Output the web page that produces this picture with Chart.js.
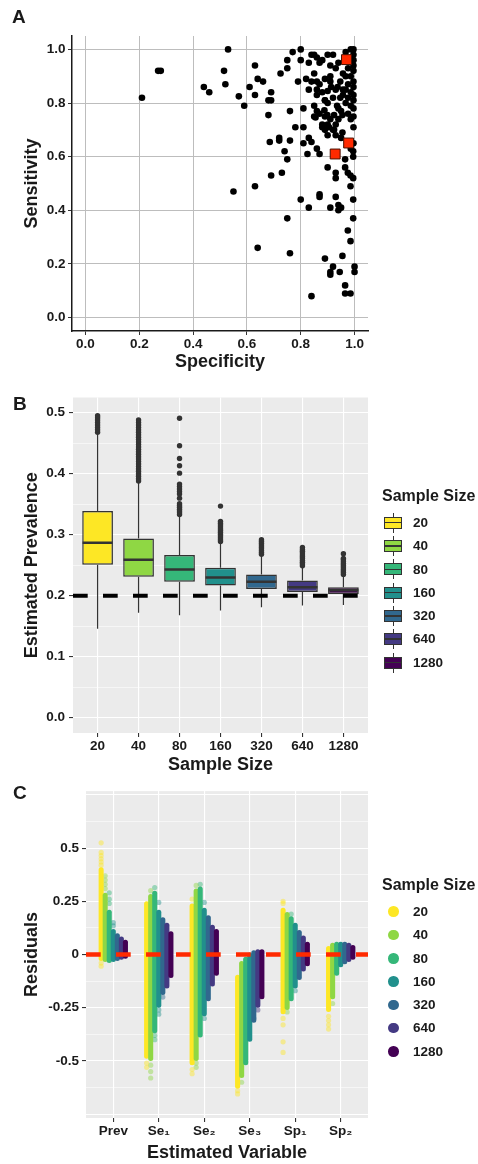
<!DOCTYPE html>
<html>
<head>
<meta charset="utf-8">
<title>Prevalence simulation</title>
<script src="https://cdn.jsdelivr.net/npm/chart.js@4.4.1/dist/chart.umd.min.js"></script>
<style>
  body { margin: 0; background: #fff; }
  #page { position: relative; width: 478px; height: 1164px; font-family: 'Liberation Sans', Arial, sans-serif; font-weight: bold; color: #1a1a1a; }
  canvas { position: absolute; left: 0; }
  .tag { position: absolute; font-size: 19px; line-height: 19px; }
  .lgTitle { position: absolute; left: 382px; font-size: 16px; line-height: 16px; white-space: nowrap; }
  .lgText { position: absolute; left: 413px; font-size: 13.5px; line-height: 13.5px; }
  .boxKey { position: absolute; left: 384px; width: 18px; height: 20px; }
  .boxKey .wh { position: absolute; left: 8.5px; top: 0; width: 1px; height: 20px; background: #333; }
  .boxKey .bx { position: absolute; left: 0; top: 4px; width: 18px; height: 12px; border: 1.3px solid #333; box-sizing: border-box; }
  .boxKey .md { position: absolute; left: 0; top: 9.25px; width: 18px; height: 1.5px; background: #333; }
  .dotKey { position: absolute; left: 388px; width: 10.5px; height: 10.5px; border-radius: 50%; }
</style>
</head>
<body>
<div id="page">
  <canvas id="chartA" width="478" height="380" style="top:0"></canvas>
  <canvas id="chartB" width="478" height="400" style="top:380px"></canvas>
  <canvas id="chartC" width="478" height="384" style="top:780px"></canvas>
  <div class="tag" style="left:12px;top:7px">A</div>
  <div class="tag" style="left:13px;top:394px">B</div>
  <div class="tag" style="left:13px;top:783px">C</div>
  <div class="lgTitle" style="top:488px">Sample Size</div>
  <div class="lgTitle" style="top:877px">Sample Size</div>
</div>
<script>
// ---- Panel A: sensitivity vs specificity of published tests
const specificity = [
  0.21, 0.27, 0.28, 0.44, 0.46, 0.53, 0.515, 0.52, 0.55, 0.57,
  0.59, 0.61, 0.63, 0.64, 0.66, 0.63, 0.63, 0.64, 0.68, 0.69,
  0.69, 0.68, 0.685, 0.72, 0.72, 0.69, 0.73, 0.74, 0.75, 0.75,
  0.76, 0.76, 0.76, 0.75, 0.75, 0.725, 0.77, 0.78, 0.79, 0.80,
  0.80, 0.81, 0.81, 0.81, 0.80, 0.83, 0.84, 0.82, 0.83, 0.84,
  0.83, 0.84, 0.85, 0.86, 0.85, 0.86, 0.86, 0.86, 0.85, 0.85,
  0.86, 0.83, 0.84, 0.825, 0.86, 0.87, 0.87, 0.87, 0.89, 0.91,
  0.91, 0.91, 0.92, 0.93, 0.94, 0.95, 0.94, 0.945, 0.955, 0.965,
  0.965, 0.985, 0.975, 0.985, 0.995, 1.0, 1.0, 0.995, 0.985, 0.90,
  0.93, 0.93, 0.965, 0.965, 0.975, 0.985, 0.995, 0.995, 0.995, 0.87,
  0.88, 0.90, 0.91, 0.93, 0.87, 0.89, 0.91, 0.88, 0.89, 0.87,
  0.89, 0.91, 0.88, 0.90, 0.92, 0.93, 0.94, 0.95, 0.955, 0.90,
  0.94, 0.93, 0.95, 0.955, 0.967, 0.986, 0.996, 0.996, 0.996, 0.996,
  0.996, 0.986, 0.996, 0.976, 0.996, 0.967, 0.986, 0.996, 0.976, 0.996,
  0.967, 0.986, 0.996, 0.976, 0.996, 0.986, 0.957, 0.947, 0.937, 0.957,
  0.947, 0.967, 0.976, 0.996, 0.957, 0.996, 0.986, 0.94, 0.92, 0.888,
  0.899, 0.855, 0.905, 0.924, 0.913, 0.90, 0.92, 0.93, 0.88, 0.89,
  0.90, 0.935, 0.91, 0.89, 0.924
];
const sensitivity = [
  0.82, 0.92, 0.92, 0.86, 0.84, 1.00, 0.92, 0.87, 0.47, 0.825,
  0.79, 0.86, 0.94, 0.89, 0.88, 0.83, 0.49, 0.26, 0.81, 0.81,
  0.84, 0.755, 0.655, 0.67, 0.66, 0.53, 0.54, 0.62, 0.59, 0.37,
  0.24, 0.77, 0.66, 0.96, 0.93, 0.91, 0.99, 0.71, 0.88, 1.00,
  0.96, 0.78, 0.71, 0.65, 0.44, 0.41, 0.08, 0.89, 0.85, 0.88,
  0.95, 0.98, 0.98, 0.97, 0.91, 0.88, 0.85, 0.83, 0.79, 0.75,
  0.77, 0.67, 0.655, 0.61, 0.63, 0.61, 0.46, 0.45, 0.22, 0.41,
  0.17, 0.16, 0.19, 0.45, 0.42, 0.41, 0.40, 0.17, 0.23, 0.12,
  0.09, 0.09, 0.325, 0.285, 0.37, 0.19, 0.17, 0.44, 0.49, 0.56,
  0.54, 0.52, 0.59, 0.56, 0.54, 0.53, 0.52, 0.60, 0.62, 0.95,
  0.96, 0.98, 0.94, 0.93, 0.87, 0.89, 0.88, 0.84, 0.81, 0.76,
  0.75, 0.74, 0.71, 0.72, 0.70, 0.72, 0.74, 0.77, 0.755, 0.80,
  0.78, 0.68, 0.67, 0.69, 0.99, 1.00, 1.00, 0.98, 0.96, 0.94,
  0.92, 0.90, 0.88, 0.87, 0.86, 0.85, 0.84, 0.83, 0.82, 0.81,
  0.80, 0.79, 0.78, 0.76, 0.75, 0.74, 0.85, 0.88, 0.86, 0.83,
  0.82, 0.90, 0.93, 0.71, 0.91, 0.65, 0.63, 0.95, 0.98, 0.773,
  0.755, 0.746, 0.71, 0.755, 0.86, 0.845, 0.82, 0.85, 0.72, 0.70,
  0.68, 0.79, 0.90, 0.81, 0.70
];
// highlighted tests (red squares)
const highlightSpec = [0.970, 0.978, 0.928];
const highlightSens = [0.962, 0.651, 0.610];
const unitTicks = [0, 0.2, 0.4, 0.6, 0.8, 1.0];

// ---- Panel B: estimated prevalence by sample size
const sampleSizes = ['20', '40', '80', '160', '320', '640', '1280'];
const truePrev = 0.2;
const boxQ1 = [0.251, 0.231, 0.223, 0.217, 0.211, 0.206, 0.203];
const boxMedian = [0.287, 0.259, 0.243, 0.230, 0.223, 0.214, 0.209];
const boxQ3 = [0.339, 0.294, 0.267, 0.246, 0.235, 0.225, 0.214];
const whiskerLow = [0.146, 0.172, 0.168, 0.176, 0.181, 0.184, 0.185];
const whiskerHigh = [0.466, 0.386, 0.331, 0.288, 0.267, 0.247, 0.233];
const outliers20 = [0.468, 0.472, 0.476, 0.480, 0.484, 0.488, 0.492, 0.495];
const outliers40 = [0.388, 0.392, 0.396, 0.400, 0.404, 0.408, 0.412, 0.416, 0.420, 0.424, 0.428, 0.432, 0.436,
  0.440, 0.444, 0.448, 0.452, 0.456, 0.460, 0.464, 0.468, 0.472, 0.476, 0.480, 0.484, 0.488];
const outliers80 = [0.333, 0.336, 0.339, 0.342, 0.345, 0.348, 0.351, 0.360, 0.367, 0.371, 0.375, 0.379, 0.383,
  0.401, 0.413, 0.425, 0.446, 0.491];
const outliers160 = [0.289, 0.292, 0.295, 0.298, 0.301, 0.304, 0.307, 0.310, 0.313, 0.316, 0.319, 0.322, 0.347];
const outliers320 = [0.268, 0.271, 0.274, 0.277, 0.280, 0.283, 0.286, 0.289, 0.292];
const outliers640 = [0.249, 0.252, 0.255, 0.258, 0.261, 0.264, 0.267, 0.270, 0.273, 0.276, 0.279];
const outliers1280 = [0.235, 0.238, 0.241, 0.244, 0.247, 0.250, 0.253, 0.256, 0.259, 0.261, 0.269];
const prevTicks = [0, 0.1, 0.2, 0.3, 0.4, 0.5];

// ---- Panel C: residuals per estimated variable, [lowest, highest] of the dense band
const varKeys = ['Prev', 'Se1', 'Se2', 'Se3', 'Sp1', 'Sp2'];
const varLabels = ['Prev', 'Se\u2081', 'Se\u2082', 'Se\u2083', 'Sp\u2081', 'Sp\u2082'];
const resid20 = [[-0.03, 0.41], [-0.49, 0.25], [-0.52, 0.24], [-0.63, -0.095], [-0.28, 0.22], [-0.27, 0.04]];
const resid40 = [[-0.035, 0.29], [-0.50, 0.285], [-0.50, 0.31], [-0.58, -0.03], [-0.26, 0.20], [-0.21, 0.055]];
const resid80 = [[-0.04, 0.21], [-0.37, 0.30], [-0.39, 0.32], [-0.52, -0.01], [-0.22, 0.18], [-0.10, 0.06]];
const resid160 = [[-0.035, 0.12], [-0.25, 0.21], [-0.29, 0.22], [-0.41, 0.01], [-0.16, 0.15], [-0.06, 0.06]];
const resid320 = [[-0.03, 0.10], [-0.19, 0.175], [-0.22, 0.185], [-0.32, 0.02], [-0.12, 0.115], [-0.045, 0.06]];
const resid640 = [[-0.025, 0.085], [-0.16, 0.15], [-0.15, 0.14], [-0.25, 0.025], [-0.08, 0.09], [-0.035, 0.055]];
const resid1280 = [[-0.02, 0.07], [-0.11, 0.11], [-0.10, 0.12], [-0.21, 0.025], [-0.055, 0.06], [-0.025, 0.045]];
// isolated residuals outside the dense band
const sparse20 = [['Prev', 0.525], ['Prev', 0.48], ['Prev', 0.465], ['Prev', 0.45], ['Prev', 0.435], ['Prev', 0.42],
  ['Prev', -0.04], ['Prev', -0.055], ['Se1', -0.51], ['Se1', -0.53], ['Se2', 0.26], ['Se2', -0.54], ['Se2', -0.56],
  ['Se3', -0.64], ['Se3', -0.655], ['Sp1', 0.25], ['Sp1', 0.24], ['Sp1', -0.30], ['Sp1', -0.33], ['Sp1', -0.41],
  ['Sp1', -0.46], ['Sp2', -0.29], ['Sp2', -0.31], ['Sp2', -0.33], ['Sp2', -0.35]];
const sparse40 = [['Prev', 0.37], ['Prev', 0.35], ['Prev', 0.33], ['Prev', 0.31], ['Se1', 0.30], ['Se1', -0.52],
  ['Se1', -0.55], ['Se1', -0.58], ['Se2', 0.325], ['Se2', -0.51], ['Se2', -0.53], ['Se3', -0.60], ['Sp1', -0.27],
  ['Sp2', -0.23]];
const sparse80 = [['Prev', 0.29], ['Prev', 0.26], ['Prev', 0.24], ['Se1', 0.315], ['Se1', -0.38], ['Se1', -0.40],
  ['Se2', 0.33], ['Sp1', 0.19]];
const sparse160 = [['Prev', 0.15], ['Prev', 0.135], ['Se1', 0.245], ['Se1', -0.26], ['Se1', -0.28], ['Se2', 0.245],
  ['Se2', -0.30], ['Sp1', -0.17]];
const sparse320 = [['Se1', -0.20], ['Se3', -0.30]];
const sparse640 = [['Se3', -0.26]];
const sparse1280 = [];
const residGrid = [-0.75, -0.625, -0.5, -0.375, -0.25, -0.125, 0, 0.125, 0.25, 0.375, 0.5, 0.625, 0.75];
const residLabels = [-0.5, -0.25, 0, 0.25, 0.5];

// ---- styling
const viridis = ['#FDE725', '#8FD744', '#35B779', '#21908C', '#31688E', '#443A83', '#440154'];
const textCol = '#1a1a1a';
const tickSize = 13.5;
Chart.defaults.font.family = "'Liberation Sans', Arial, sans-serif";
Chart.defaults.font.weight = 'bold';
Chart.defaults.color = textCol;

function withAlpha(hex, a) {
  const n = parseInt(hex.slice(1), 16);
  return 'rgba(' + (n >> 16) + ',' + ((n >> 8) & 255) + ',' + (n & 255) + ',' + a + ')';
}

// grey ggplot-like panel background
const panelBg = {
  id: 'panelBg',
  beforeDraw(chart, args, opts) {
    if (!opts.color) return;
    const { ctx, chartArea: a } = chart;
    ctx.save();
    ctx.fillStyle = opts.color;
    ctx.fillRect(a.left, a.top, a.width, a.height);
    ctx.restore();
  }
};

const baseOpts = {
  responsive: false,
  animation: false,
  events: [],
  plugins: { legend: { display: false }, tooltip: { enabled: false } }
};

// ================= Panel A =================
new Chart(document.getElementById('chartA'), {
  type: 'scatter',
  data: {
    datasets: [
      {
        data: specificity.map((x, i) => ({ x: x, y: sensitivity[i] })),
        backgroundColor: '#000', pointRadius: 3.3, borderWidth: 0, order: 2
      },
      {
        data: highlightSpec.map((x, i) => ({ x: x, y: highlightSens[i] })),
        pointStyle: 'rect', pointRadius: 7, backgroundColor: '#FF2A00',
        borderColor: '#4a1000', borderWidth: 1, order: 1
      }
    ]
  },
  options: {
    ...baseOpts,
    layout: { padding: { top: 36, right: 110, left: 0, bottom: 0 } },
    scales: {
      x: {
        type: 'linear', min: -0.05, max: 1.05,
        afterBuildTicks: s => { s.ticks = unitTicks.map(v => ({ value: v })); },
        afterFit: s => { s.height = 49; },
        ticks: { callback: v => v.toFixed(1), font: { size: tickSize }, padding: 1, maxRotation: 0, autoSkip: false },
        grid: { color: '#bdbdbd', tickColor: '#333', tickLength: 4 },
        border: { display: true, color: '#1a1a1a', width: 1.5 },
        title: { display: true, text: 'Specificity', font: { size: 18 }, padding: { top: 0, bottom: 7 } }
      },
      y: {
        type: 'linear', min: -0.05, max: 1.05,
        afterBuildTicks: s => { s.ticks = unitTicks.map(v => ({ value: v })); },
        afterFit: s => { s.width = 72; },
        ticks: { callback: v => v.toFixed(1), font: { size: tickSize }, padding: 2.5, autoSkip: false },
        grid: { color: '#bdbdbd', tickColor: '#333', tickLength: 4 },
        border: { display: true, color: '#1a1a1a', width: 1.5 },
        title: { display: true, text: 'Sensitivity', font: { size: 18 }, padding: { top: 21, bottom: 0 } }
      }
    }
  }
});

// ================= Panel B =================
const bxMin = -0.6, bxMax = sampleSizes.length - 1 + 0.6;
const outliersAll = [outliers20, outliers40, outliers80, outliers160, outliers320, outliers640, outliers1280];
const isTenth = v => Math.abs(v * 10 - Math.round(v * 10)) < 1e-6;
const prevGrid = [];
for (let i = 0; i < prevTicks.length; i++) {
  prevGrid.push(prevTicks[i]);
  if (i < prevTicks.length - 1) prevGrid.push((prevTicks[i] + prevTicks[i + 1]) / 2);
}

new Chart(document.getElementById('chartB'), {
  type: 'bar',
  plugins: [panelBg],
  data: {
    datasets: [
      {
        type: 'bar', grouped: false, order: 8,
        data: sampleSizes.map((s, i) => ({ x: i, y: [whiskerLow[i], boxQ1[i]] })),
        backgroundColor: '#333', maxBarThickness: 1.2
      },
      {
        type: 'bar', grouped: false, order: 8,
        data: sampleSizes.map((s, i) => ({ x: i, y: [boxQ3[i], whiskerHigh[i]] })),
        backgroundColor: '#333', maxBarThickness: 1.2
      },
      {
        type: 'scatter', order: 7,
        data: outliersAll.flatMap((arr, i) => arr.map(v => ({ x: i, y: v }))),
        backgroundColor: '#333', pointRadius: 2.7, borderWidth: 0
      },
      {
        type: 'bar', grouped: false, order: 5,
        data: sampleSizes.map((s, i) => ({ x: i, y: [boxQ1[i], boxQ3[i]] })),
        backgroundColor: viridis, borderColor: '#333', borderWidth: 1.5, borderSkipped: false,
        categoryPercentage: 0.75, barPercentage: 1
      },
      {
        type: 'scatter', order: 3,
        data: sampleSizes.map((s, i) => ({ x: i, y: boxMedian[i] })),
        pointStyle: 'line', pointRadius: 15, borderColor: '#333', borderWidth: 2.5
      },
      {
        type: 'line', order: 0,
        data: [{ x: bxMin, y: truePrev }, { x: bxMax, y: truePrev }],
        borderColor: '#000', borderWidth: 4, borderDash: [14.7, 15.3], pointRadius: 0
      }
    ]
  },
  options: {
    ...baseOpts,
    layout: { padding: { top: 7, right: 110, left: 0, bottom: 0 } },
    plugins: { ...baseOpts.plugins, panelBg: { color: '#EBEBEB' } },
    scales: {
      x: {
        type: 'linear', min: bxMin, max: bxMax, offset: false,
        afterBuildTicks: s => { s.ticks = sampleSizes.map((_, i) => ({ value: i })); },
        afterFit: s => { s.height = 47; },
        ticks: { callback: v => sampleSizes[v], font: { size: tickSize }, padding: 1, maxRotation: 0, autoSkip: false },
        grid: { offset: false, color: '#fff', lineWidth: 1.1, tickColor: '#333', tickLength: 4 },
        border: { display: false },
        title: { display: true, text: 'Sample Size', font: { size: 18 }, padding: { top: 0, bottom: 4 } }
      },
      y: {
        type: 'linear', min: -0.025, max: 0.525,
        afterBuildTicks: s => { s.ticks = prevGrid.map(v => ({ value: v })); },
        afterFit: s => { s.width = 73; },
        ticks: { callback: v => isTenth(v) ? v.toFixed(1) : '', font: { size: tickSize }, padding: 4, autoSkip: false },
        grid: {
          color: '#fff',
          lineWidth: c => isTenth(c.tick.value) ? 1.1 : 0.55,
          tickColor: c => isTenth(c.tick.value) ? '#333' : 'rgba(0,0,0,0)',
          tickLength: 4
        },
        border: { display: false },
        title: { display: true, text: 'Estimated Prevalence', font: { size: 18 }, padding: { top: 21, bottom: 0 } }
      }
    }
  }
});

// ================= Panel C =================
const cxMin = -0.6, cxMax = varKeys.length - 1 + 0.6;
const dodgeStep = 0.089;
const residRanges = [resid20, resid40, resid80, resid160, resid320, resid640, resid1280];
const residSparse = [sparse20, sparse40, sparse80, sparse160, sparse320, sparse640, sparse1280];
const isQuarter = v => Math.abs(v * 4 - Math.round(v * 4)) < 1e-6;
const cDatasets = [];
sampleSizes.forEach((s, k) => {
  cDatasets.push({
    type: 'bar', grouped: false, order: 30 - k,
    data: residRanges[k].map((r, v) => ({ x: v + (k - 3) * dodgeStep, y: r })),
    backgroundColor: viridis[k], borderWidth: 0, borderRadius: 2.5, borderSkipped: false,
    categoryPercentage: 1, barPercentage: 1.25
  });
  cDatasets.push({
    type: 'scatter', order: 40,
    data: residSparse[k].map(p => ({ x: varKeys.indexOf(p[0]) + (k - 3) * dodgeStep, y: p[1] })),
    backgroundColor: withAlpha(viridis[k], 0.45), pointRadius: 2.6, borderWidth: 0
  });
});
cDatasets.push({
  type: 'line', order: 0,
  data: [{ x: cxMin, y: 0 }, { x: cxMax, y: 0 }],
  borderColor: '#FF2A00', borderWidth: 4.5, borderDash: [14.7, 15.3], pointRadius: 0
});

new Chart(document.getElementById('chartC'), {
  type: 'bar',
  plugins: [panelBg],
  data: { datasets: cDatasets },
  options: {
    ...baseOpts,
    layout: { padding: { top: 5, right: 110, left: 0, bottom: 0 } },
    plugins: { ...baseOpts.plugins, panelBg: { color: '#EBEBEB' } },
    scales: {
      x: {
        type: 'linear', min: cxMin, max: cxMax, offset: false,
        afterBuildTicks: s => { s.ticks = varKeys.map((_, i) => ({ value: i })); },
        afterFit: s => { s.height = 46; },
        ticks: { callback: v => varLabels[v], font: { size: tickSize }, padding: 1, maxRotation: 0, autoSkip: false },
        grid: { offset: false, color: '#fff', lineWidth: 1.1, tickColor: '#333', tickLength: 4 },
        border: { display: false },
        title: { display: true, text: 'Estimated Variable', font: { size: 18 }, padding: { top: 0, bottom: 0 } }
      },
      y: {
        type: 'linear', min: -0.768, max: 0.768,
        afterBuildTicks: s => { s.ticks = residGrid.map(v => ({ value: v })); },
        afterFit: s => { s.width = 86; },
        ticks: {
          callback: v => residLabels.includes(v) ? (v === 0 ? '0' : String(v)) : '',
          font: { size: tickSize }, padding: 3, autoSkip: false
        },
        grid: {
          color: '#fff',
          lineWidth: c => isQuarter(c.tick.value) ? 1.1 : 0.55,
          tickColor: c => residLabels.includes(c.tick.value) ? '#333' : 'rgba(0,0,0,0)',
          tickLength: 4
        },
        border: { display: false },
        title: { display: true, text: 'Residuals', font: { size: 18 }, padding: { top: 21, bottom: 0 } }
      }
    }
  }
});

// ---- HTML legends
const page = document.getElementById('page');
sampleSizes.forEach((s, i) => {
  const cyB = 522.7 + i * 23.3;
  const key = document.createElement('div');
  key.className = 'boxKey';
  key.style.top = (cyB - 10) + 'px';
  key.innerHTML = '<div class="wh"></div><div class="bx" style="background:' + viridis[i] + '"></div><div class="md"></div>';
  page.appendChild(key);
  const tB = document.createElement('div');
  tB.className = 'lgText';
  tB.style.top = (cyB - 6.75) + 'px';
  tB.textContent = s;
  page.appendChild(tB);

  const cyC = 911.7 + i * 23.3;
  const dot = document.createElement('div');
  dot.className = 'dotKey';
  dot.style.top = (cyC - 5.25) + 'px';
  dot.style.background = viridis[i];
  page.appendChild(dot);
  const tC = document.createElement('div');
  tC.className = 'lgText';
  tC.style.top = (cyC - 6.75) + 'px';
  tC.textContent = s;
  page.appendChild(tC);
});
</script>
</body>
</html>
